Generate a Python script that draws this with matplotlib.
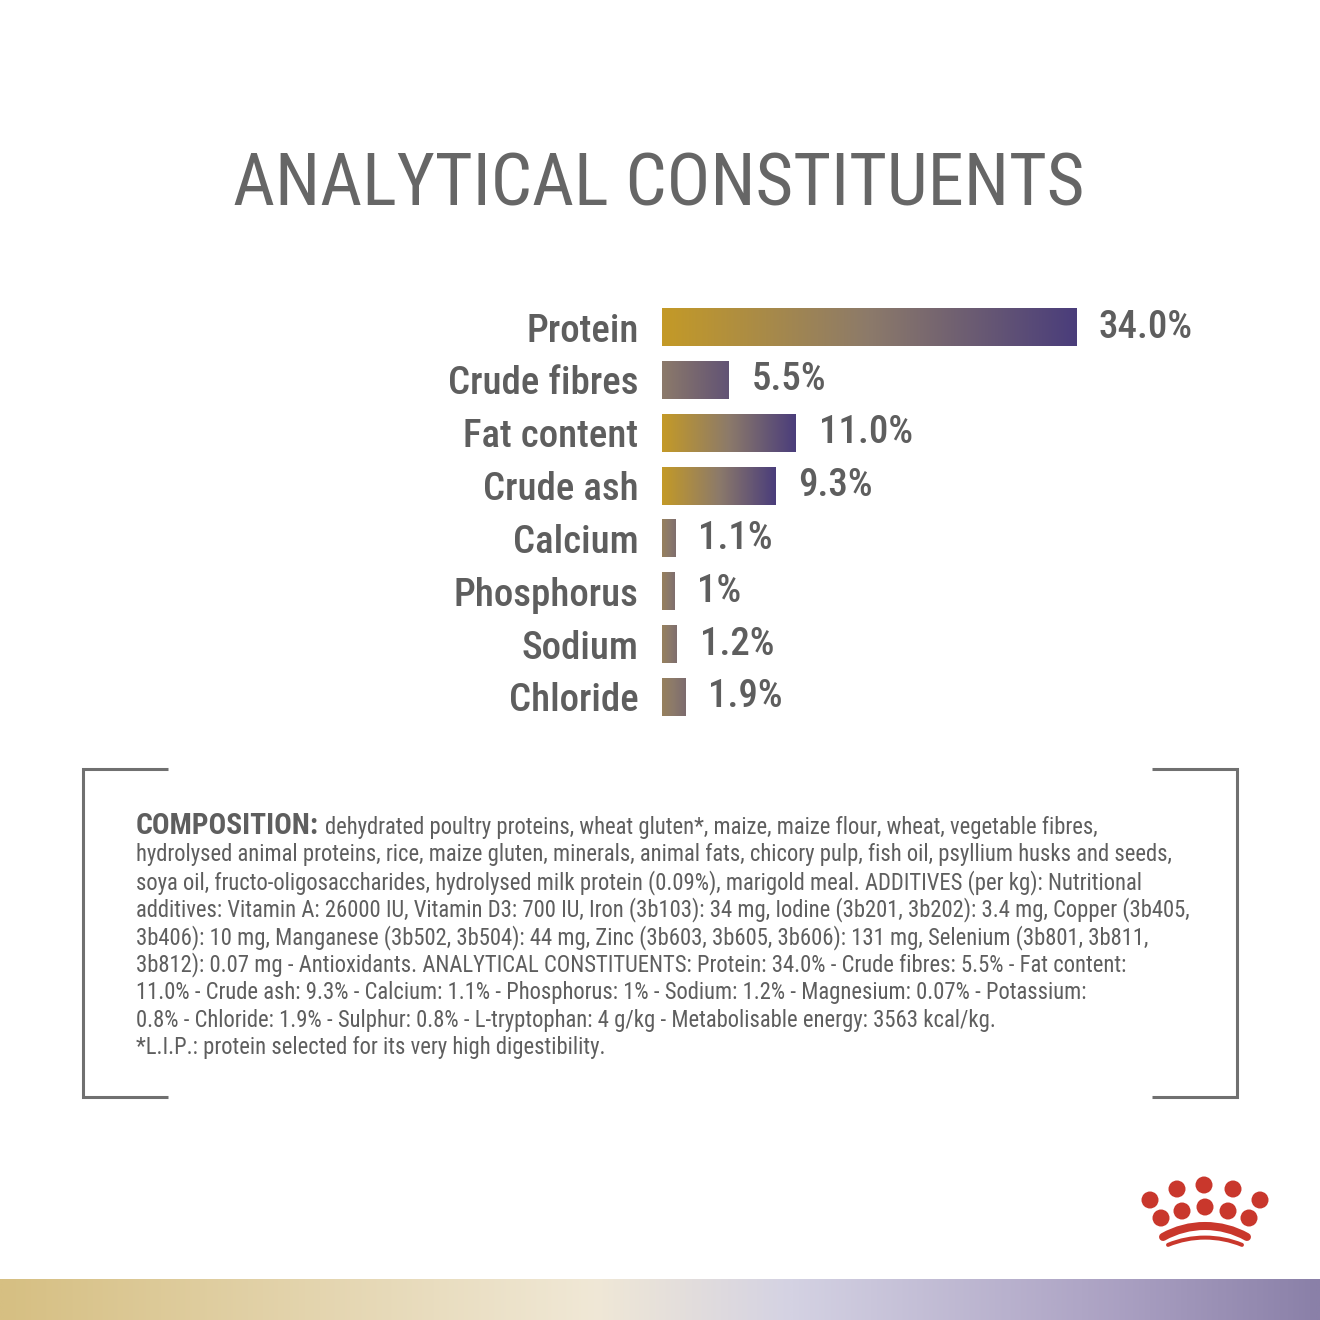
import os
import numpy as np
import matplotlib
matplotlib.use("Agg")
import matplotlib.pyplot as plt
from matplotlib import font_manager
from matplotlib.colors import LinearSegmentedColormap
from matplotlib.patches import Circle, Arc

# --- data ---
nutrients = ["Protein", "Crude fibres", "Fat content", "Crude ash",
             "Calcium", "Phosphorus", "Sodium", "Chloride"]
percent = [34.0, 5.5, 11.0, 9.3, 1.1, 1.0, 1.2, 1.9]
percent_labels = ["34.0%", "5.5%", "11.0%", "9.3%", "1.1%", "1%", "1.2%", "1.9%"]

title = "ANALYTICAL CONSTITUENTS"
composition_head = "COMPOSITION:"
composition_lines = [
    "dehydrated poultry proteins, wheat gluten*, maize, maize flour, wheat, vegetable fibres,",
    "hydrolysed animal proteins, rice, maize gluten, minerals, animal fats, chicory pulp, fish oil, psyllium husks and seeds,",
    "soya oil, fructo-oligosaccharides, hydrolysed milk protein (0.09%), marigold meal. ADDITIVES (per kg): Nutritional",
    "additives: Vitamin A: 26000 IU, Vitamin D3: 700 IU, Iron (3b103): 34 mg, Iodine (3b201, 3b202): 3.4 mg, Copper (3b405,",
    "3b406): 10 mg, Manganese (3b502, 3b504): 44 mg, Zinc (3b603, 3b605, 3b606): 131 mg, Selenium (3b801, 3b811,",
    "3b812): 0.07 mg - Antioxidants. ANALYTICAL CONSTITUENTS: Protein: 34.0% - Crude fibres: 5.5% - Fat content:",
    "11.0% - Crude ash: 9.3% - Calcium: 1.1% - Phosphorus: 1% - Sodium: 1.2% - Magnesium: 0.07% - Potassium:",
    "0.8% - Chloride: 1.9% - Sulphur: 0.8% - L-tryptophan: 4 g/kg - Metabolisable energy: 3563 kcal/kg.",
    "*L.I.P.: protein selected for its very high digestibility.",
]

# --- style ---
GREY = "#5e5e5e"
TITLE_GREY = "#666666"
LINE_GREY = "#707070"
RED = "#c9372c"
bar_cmap = LinearSegmentedColormap.from_list("bar", ["#c49a27", "#8c7a6a", "#4a3d7b"])
grad_stops = [(0.0, 1.0), (0.5, 0.82), (0.0, 1.0), (0.0, 1.0),
              (0.4, 0.6), (0.4, 0.6), (0.4, 0.6), (0.4, 0.62)]
strip_cmap = LinearSegmentedColormap.from_list(
    "strip", [(0.0, "#d6bf82"), (0.45, "#f0e8d6"), (0.6, "#d4d2e3"),
              (0.85, "#aaa0c2"), (1.0, "#8a80a8")])


def find_font(keys):
    files = [f.fname for f in font_manager.fontManager.ttflist]
    for k in keys:
        for f in files:
            if os.path.basename(f).lower().startswith(k):
                return f
    return None


reg_file = find_font(["robotocondensed-regular", "liberationsansnarrow-regular",
                      "dejavusanscondensed.ttf"])
med_file = find_font(["robotocondensed-medium", "robotocondensed-regular",
                      "liberationsansnarrow-regular", "dejavusanscondensed.ttf"])
bold_file = find_font(["robotocondensed-bold.", "liberationsansnarrow-bold.",
                       "dejavusanscondensed-bold.ttf"])


def fp(size, kind="regular"):
    f = {"regular": reg_file, "medium": med_file, "bold": bold_file}[kind]
    if f:
        return font_manager.FontProperties(fname=f, size=size)
    return font_manager.FontProperties(family="DejaVu Sans",
                                       weight="bold" if kind == "bold" else "normal",
                                       size=size)


fig = plt.figure(figsize=(13.2, 13.2), dpi=100, facecolor="white")
renderer = fig.canvas.get_renderer()

# full-figure axes in pixel units for the decoration
bg = fig.add_axes([0, 0, 1, 1])
bg.set_xlim(0, 1320)
bg.set_ylim(1320, 0)
bg.axis("off")


def fit(t, width):
    w = t.get_window_extent(renderer).width
    t.set_fontsize(t.get_fontsize() * width / w)


# title
t = bg.text(659, 206, title, ha="center", va="baseline", color=TITLE_GREY,
            fontproperties=fp(60))
fit(t, 852)

# --- bar chart ---
px_per_pct = 414 / 34.0
ax = fig.add_axes([662 / 1320, 1 - 724 / 1320, 658 / 1320, 424 / 1320])
ax.patch.set_visible(False)
y = np.arange(len(nutrients))
bars = ax.barh(y, percent, height=0.72, color="none")
for b, (c0, c1) in zip(bars, grad_stops):
    x0, y0 = b.get_x(), b.get_y()
    grad = np.linspace(c0, c1, 256).reshape(1, -1)
    im = ax.imshow(grad, cmap=bar_cmap, vmin=0, vmax=1, aspect="auto",
                   extent=[x0, x0 + b.get_width(), y0 + b.get_height(), y0],
                   interpolation="bilinear")
    im.set_clip_path(b)
ax.set_xlim(0, 658 / px_per_pct)
ax.set_ylim(7.511, -0.511)
for s in ax.spines.values():
    s.set_visible(False)
ax.set_xticks([])
ax.set_yticks(y)
ax.set_yticklabels(nutrients, fontproperties=fp(28, "medium"), color=GREY)
ax.tick_params(axis="y", length=0, pad=17)
for yi, v, lab in zip(y, percent, percent_labels):
    ax.annotate(lab, (v, yi), xytext=(16.5, 0), textcoords="offset points",
                ha="left", va="center", color=GREY, fontproperties=fp(28, "medium"))

# --- composition box ---
lw = 2.2
bg.plot([168, 83, 83, 168], [769, 769, 1097, 1097], color=LINE_GREY, lw=lw,
        solid_capstyle="butt", solid_joinstyle="miter")
bg.plot([1152, 1237, 1237, 1152], [769, 769, 1097, 1097], color=LINE_GREY, lw=lw,
        solid_capstyle="butt", solid_joinstyle="miter")

probe = bg.text(136, 0, composition_lines[1], fontproperties=fp(16))
fit(probe, 1038)
body_size = probe.get_fontsize()
probe.remove()

head = bg.text(136, 834, composition_head, ha="left", va="baseline", color=GREY,
               fontproperties=fp(body_size * 1.3, "bold"))
hx = head.get_window_extent(renderer).x1
for i, line in enumerate(composition_lines):
    x = hx + 6 if i == 0 else 136
    bg.text(x, 834 + 27.5 * i, line, ha="left", va="baseline", color=GREY,
            fontproperties=fp(body_size))

# --- crown logo ---
for cx, cy in [(1150, 1200), (1177, 1189), (1204, 1185), (1233, 1189), (1260, 1200),
               (1161, 1218), (1182, 1211), (1205, 1207), (1228, 1211), (1249, 1218)]:
    bg.add_patch(Circle((cx, cy), 8.5, color=RED, lw=0))
bg.add_patch(Arc((1205, 1311.7), 2 * 85.7, 2 * 85.7, theta1=270 - 29.3, theta2=270 + 29.3,
                 color=RED, lw=5.8, capstyle="round"))
bg.add_patch(Arc((1205, 1335), 2 * 97.4, 2 * 97.4, theta1=270 - 22.3, theta2=270 + 22.3,
                 color=RED, lw=2.9, capstyle="round"))

# bottom gradient strip
bg.imshow(np.linspace(0, 1, 512).reshape(1, -1), cmap=strip_cmap, aspect="auto",
          extent=[0, 1320, 1320, 1279], interpolation="bilinear")
bg.set_xlim(0, 1320)
bg.set_ylim(1320, 0)

fig.savefig("out.png", dpi=100, facecolor="white")
